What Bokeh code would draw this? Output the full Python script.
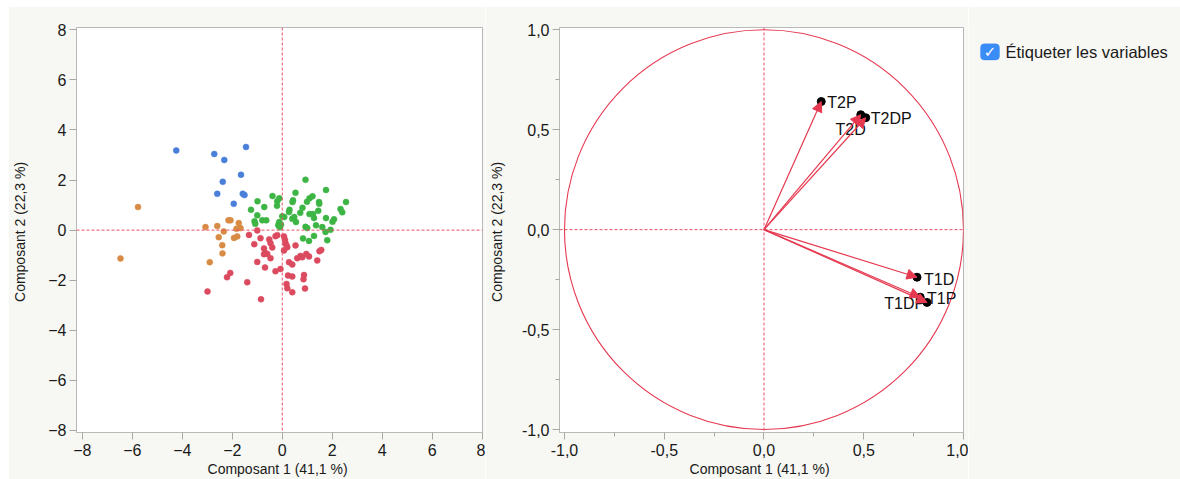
from bokeh.plotting import figure
from bokeh.models import (Range1d, FixedTicker, CustomJSTickFormatter, Span, Arrow,
                          NormalHead, ColumnDataSource, BoxAnnotation, Label, Spacer)
from bokeh.layouts import row, column
from bokeh.embed import file_html
from bokeh.resources import INLINE
from bokeh.core.properties import value

# ---------------- data ----------------
blue_x = [-4.24, -2.72, -2.32, -1.45, -1.65, -2.38, -2.60, -1.58, -1.51, -1.94]
blue_y = [3.18, 3.04, 2.80, 3.32, 2.21, 1.93, 1.45, 1.45, 1.40, 1.05]

orange_x = [-5.77, -6.47, -3.07, -2.60, -2.34, -2.54, -2.15, -2.07, -1.74, -1.67,
            -1.83, -1.93, -1.80, -2.40, -2.39, -2.90]
orange_y = [0.92, -1.13, 0.12, 0.16, -0.05, -0.28, 0.39, 0.39, 0.28, 0.08,
            0.05, -0.31, -0.25, -0.60, -0.93, -1.28]

green_x = [0.93, 1.75, -0.39, -0.12, -0.20, -0.21, -0.99, -1.25, -0.72, -1.00,
           -1.11, -1.08, -0.80, -0.64, -0.12, -0.13, -0.09, 0.00, 0.08, 0.53,
           0.43, 0.41, 0.29, 0.27, 0.48, 0.40, 0.55, 0.72, 0.81, 0.99,
           1.09, 1.21, 1.47, 1.48, 1.44, 1.09, 1.23, 1.27, 0.93, 1.00,
           1.35, 1.60, 1.75, 2.07, 2.01, 2.33, 2.40, 2.55, 1.93, 1.73,
           1.27, 0.83, 1.07, 1.80, -0.05, -0.16]
green_y = [2.01, 1.60, 1.36, 1.27, 1.15, 0.97, 1.15, 0.81, 0.92, 0.59,
           0.35, 0.25, 0.39, 0.39, 0.32, 0.16, 0.11, 0.55, 0.52, 1.49,
           1.19, 1.12, 0.81, 0.72, 0.52, 0.45, 0.32, 0.69, 0.89, 1.13,
           1.27, 1.35, 1.12, 1.05, 0.77, 0.64, 0.64, 0.48, 0.13, 0.08,
           0.19, 0.12, 0.48, 0.43, 0.33, 0.84, 0.71, 1.12, 0.01, -0.07,
           -0.23, -0.33, -0.43, -0.40, 0.22, 0.20]

red_x = [-1.00, -1.33, -0.87, -1.12, -0.52, -0.27, -0.20, 0.07, -0.47, -0.40,
         -0.73, -0.67, -0.73, -0.60, -0.47, -1.00, -0.69, -0.27, -0.07, 0.11,
         0.13, 0.17, 0.20, 0.07, 0.53, 0.60, 0.73, 0.80, 0.96, 1.07,
         1.40, 1.49, 1.56, 0.27, 0.40, 0.23, 0.40, 0.87, 0.85, 0.17,
         0.20, 0.40, 0.91, -2.08, -2.21, -1.40, -2.99, -0.85]
red_y = [-0.01, -0.19, -0.32, -0.56, -0.37, -0.24, -0.20, -0.25, -0.52, -0.69,
         -0.73, -0.92, -0.96, -0.95, -1.12, -1.27, -1.49, -1.64, -1.55, -0.39,
         -0.52, -0.61, -0.68, -0.81, -0.61, -1.12, -1.03, -1.08, -0.95, -1.05,
         -1.21, -0.84, -0.79, -1.28, -1.37, -1.81, -1.85, -1.79, -1.96, -2.15,
         -2.32, -2.48, -2.33, -1.71, -1.88, -2.08, -2.45, -2.76]

var_names = ["T1D", "T1P", "T1DP", "T2D", "T2P", "T2DP"]
var_x = [0.767, 0.817, 0.783, 0.485, 0.287, 0.510]
var_y = [-0.238, -0.364, -0.338, 0.575, 0.641, 0.560]

score_ticks = [-8, -6, -4, -2, 0, 2, 4, 6, 8]
load_ticks = [-1.0, -0.5, 0.0, 0.5, 1.0]
load_minor = [-0.75, -0.25, 0.25, 0.75]

x_label = "Composant 1  (41,1 %)"
y_label = "Composant 2  (22,3 %)"
check_label = "Étiqueter les variables"

# ---------------- style ----------------
BG = "#f7f7f3"
FONT = "Liberation Sans"
FRAME = "#b9b9b9"
REF = "#ec5066"
ARROW = "#e63950"
C_BLUE, C_ORANGE, C_GREEN, C_RED = "#4a7fd9", "#d88b44", "#3cb545", "#db4a5e"
TOP_PAD, LEFT_PAD = 6, 8
H = 479 - TOP_PAD
B_TOP = 21
B_BOTTOM = H - B_TOP - 405


def style_axes(p, ticks, ylab_standoff, minor=None, fmt=None):
    for ax in (p.xaxis[0], p.yaxis[0]):
        ax.ticker = FixedTicker(ticks=ticks, minor_ticks=minor or [])
        if fmt is not None:
            ax.formatter = fmt
        ax.axis_line_color = FRAME
        ax.major_tick_line_color = "#a8a8a8"
        ax.major_tick_out = 7
        ax.major_tick_in = 0
        ax.minor_tick_line_color = "#a8a8a8" if minor else None
        ax.minor_tick_out = 4
        ax.minor_tick_in = 0
        ax.major_label_text_font = FONT
        ax.major_label_text_font_size = "16px"
        ax.major_label_text_color = "#1a1a1a"
        ax.major_label_standoff = 3
        ax.axis_label_text_font = FONT
        ax.axis_label_text_font_size = "14px"
        ax.axis_label_text_font_style = "normal"
        ax.axis_label_text_color = "#1a1a1a"
    p.xaxis.axis_label = x_label
    p.yaxis.axis_label = y_label
    p.xaxis.major_label_standoff = 4
    p.xaxis.axis_label_standoff = 2
    p.yaxis.axis_label_standoff = ylab_standoff
    p.grid.visible = False


def base_fig(width, left, right, xr, yr):
    return figure(width=width, height=H, x_range=xr, y_range=yr,
                  output_backend="svg", toolbar_location=None,
                  min_border_left=left, min_border_right=right,
                  min_border_top=B_TOP, min_border_bottom=B_BOTTOM,
                  background_fill_color="white", border_fill_color=BG,
                  outline_line_color=FRAME)


def ref_lines(p):
    p.add_layout(Span(location=0, dimension="height", line_color=REF, line_dash="3 2", line_width=1))
    p.add_layout(Span(location=0, dimension="width", line_color=REF, line_dash="3 2", line_width=1))


# ---------------- left: scores ----------------
p1 = base_fig(477, 68, 3, Range1d(-8.23, 8.01), Range1d(-8.08, 8.09))
style_axes(p1, score_ticks, 17)
ref_lines(p1)
for xs, ys, c in ((blue_x, blue_y, C_BLUE), (orange_x, orange_y, C_ORANGE),
                  (green_x, green_y, C_GREEN), (red_x, red_y, C_RED)):
    p1.scatter(xs, ys, size=6, fill_color=c, line_color=c, line_width=0.5)

# ---------------- right: loadings ----------------
fmt = CustomJSTickFormatter(code="return tick.toFixed(1).replace('.', ',');")
p2 = base_fig(483, 73, 5, Range1d(-1.025, 1.0), Range1d(-1.015, 1.0115))
style_axes(p2, load_ticks, 14, minor=load_minor, fmt=fmt)
ref_lines(p2)
p2.ellipse(x=0, y=0, width=2, height=2, fill_color=None, line_color=ARROW, line_width=1.1)

p2.scatter(var_x, var_y, size=8, color="black")
arrow_src = ColumnDataSource(dict(x0=[0] * len(var_x), y0=[0] * len(var_y), x1=var_x, y1=var_y))
p2.add_layout(Arrow(end=NormalHead(size=10, fill_color=ARROW, line_color=ARROW, line_width=1),
                    x_start="x0", y_start="y0", x_end="x1", y_end="y1",
                    line_color=ARROW, line_width=1.2, source=arrow_src))

# label placement (style): name -> (align, dx, dy)
place = {"T2P": ("left", 6, 1), "T2DP": ("left", 5, 1), "T1D": ("left", 7, 2),
         "T1P": ("left", 0, -4), "T2D": ("right", 5, 15), "T1DP": ("right", 5, 6)}
for align in ("left", "right"):
    idx = [i for i, n in enumerate(var_names) if place[n][0] == align]
    src = ColumnDataSource(dict(x=[var_x[i] for i in idx], y=[var_y[i] for i in idx],
                                name=[var_names[i] for i in idx],
                                dx=[place[var_names[i]][1] for i in idx],
                                dy=[place[var_names[i]][2] for i in idx]))
    p2.text(x="x", y="y", text="name", source=src, x_offset="dx", y_offset="dy",
            text_align=align, text_baseline="middle", text_font=value(FONT),
            text_font_size="16px", text_color="#111111")

# ---------------- checkbox panel ----------------
W3 = 1180 - LEFT_PAD - 477 - 483
p3 = figure(width=W3, height=H, x_range=Range1d(0, W3), y_range=Range1d(H, 0),
            output_backend="svg", toolbar_location=None, min_border=0,
            background_fill_color=BG, border_fill_color=BG, outline_line_color=None)
p3.title.visible = False
p3.axis.visible = False
p3.grid.visible = False
p3.add_layout(BoxAnnotation(left=12, right=31, top=19, bottom=38, fill_color="#3a8cf7",
                            fill_alpha=1, line_color="#2f7fe8", line_width=1, border_radius=4))
p3.add_layout(Label(x=21.5, y=29, text="✓", text_color="white", text_align="center",
                    text_baseline="middle", text_font="DejaVu Sans", text_font_size="15px",
                    text_font_style="bold"))
p3.add_layout(Label(x=37, y=29, text=check_label, text_color="#1a1a1a", text_align="left",
                    text_baseline="middle", text_font=FONT, text_font_size="16.5px"))

layout = column(Spacer(height=TOP_PAD, width=1180),
                row(Spacer(width=LEFT_PAD, height=H), p1, p2, p3))
open("out.html", "w").write(file_html(layout, INLINE, title="ACP"))
